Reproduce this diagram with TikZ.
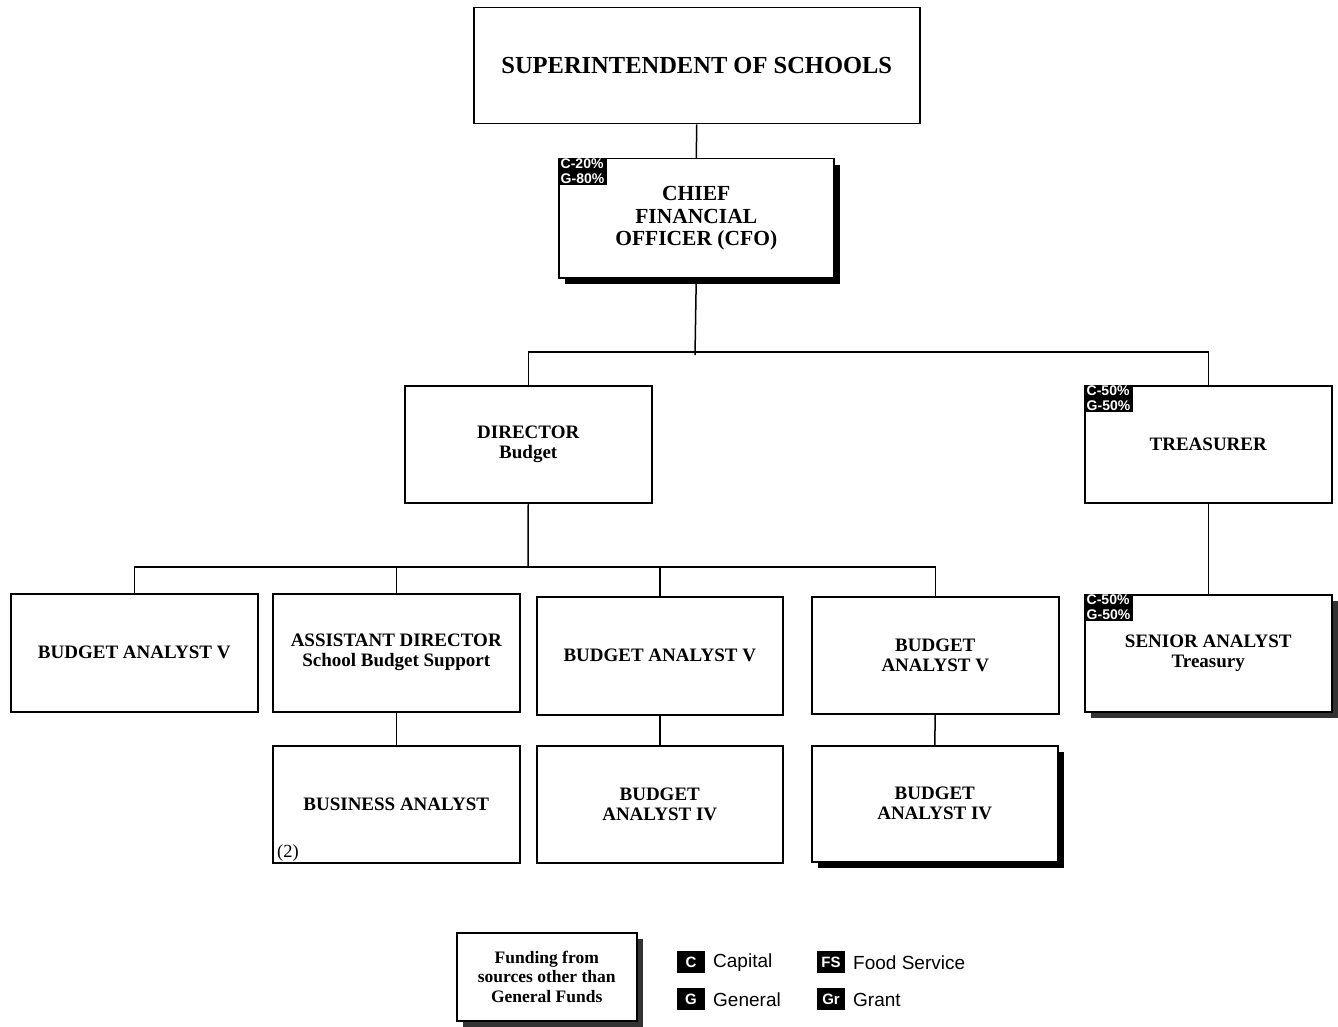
\documentclass[tikz,border=0pt]{standalone}
\usepackage{fontspec}
\setmainfont{Liberation Serif}
\newfontfamily\tagfont{Liberation Sans}
\usetikzlibrary{shadows}
\begin{document}
\begin{tikzpicture}[x=1pt,y=-1pt,
  box/.style={draw=black, line width=1.5pt, fill=white, inner sep=2pt, align=center, anchor=north west},
  shad/.style={drop shadow={shadow xshift=6pt, shadow yshift=-6pt, fill=black, opacity=1}},
  softshad/.style={drop shadow={shadow xshift=6pt, shadow yshift=-6pt, fill=black!80, opacity=1}},
  title/.style={font=\bfseries\fontsize{19}{20}\selectfont},
  bigtitle/.style={font=\bfseries\fontsize{21.5}{22.5}\selectfont},
  fundtag/.style={fill=black, text=white, inner xsep=2.5pt, inner ysep=1pt, anchor=north west, align=left,
    font=\tagfont\bfseries\fontsize{14}{14.5}\selectfont},
  keybox/.style={fill=black, text=white, minimum width=28pt, minimum height=22pt, inner sep=0pt,
    font=\tagfont\bfseries\fontsize{15}{15}\selectfont},
  keytext/.style={anchor=west, inner sep=0pt, font=\tagfont\fontsize{19}{19}\selectfont},
  conn/.style={draw=black, line width=1.5pt}]
\useasboundingbox (0,0) rectangle (1338,1027);

% top level
\node[box, minimum width=446pt, minimum height=116pt, font=\bfseries\fontsize{24.5}{26}\selectfont]
  (sup) at (473,7) {SUPERINTENDENT OF SCHOOLS};
\node[box, shad, minimum width=275pt, minimum height=119pt, bigtitle]
  (cfo) at (558,158) {CHIEF\\FINANCIAL\\OFFICER (CFO)};
\node[fundtag] (cfotag) at (cfo.north west) {C-20\%\\G-80\%};

% second level
\node[box, minimum width=247pt, minimum height=117pt, title]
  (dir) at (404,385) {DIRECTOR\\Budget};
\node[box, minimum width=247pt, minimum height=117pt, title]
  (tre) at (1084,385) {TREASURER};
\node[fundtag] (tretag) at (tre.north west) {C-50\%\\G-50\%};

% third level
\node[box, minimum width=247pt, minimum height=118pt, title]
  (ba1) at (10,593) {BUDGET ANALYST V};
\node[box, minimum width=247pt, minimum height=118pt, title]
  (ad) at (272,593) {ASSISTANT DIRECTOR\\School Budget Support};
\node[box, minimum width=246pt, minimum height=118pt, title]
  (ba3) at (536,596) {BUDGET ANALYST V};
\node[box, minimum width=247pt, minimum height=117pt, title]
  (ba4) at (811,596) {BUDGET\\ANALYST V};
\node[box, softshad, minimum width=247pt, minimum height=117pt, title]
  (sen) at (1084,594) {SENIOR ANALYST\\Treasury};
\node[fundtag] (sentag) at (sen.north west) {C-50\%\\G-50\%};

% fourth level
\node[box, minimum width=247pt, minimum height=117pt, title]
  (bus) at (272,745) {BUSINESS ANALYST};
\node[anchor=south west, inner sep=1pt, font=\fontsize{18.5}{18.5}\selectfont]
  (buscount) at ([xshift=4pt,yshift=1pt]bus.south west) {(2)};
\node[box, minimum width=246pt, minimum height=117pt, title]
  (ba4a) at (536,745) {BUDGET\\ANALYST IV};
\node[box, shad, minimum width=246pt, minimum height=116pt, title]
  (ba4b) at (811,745) {BUDGET\\ANALYST IV};

% connectors
\coordinate (cfoj) at (695,352);
\coordinate (dj) at (528,567);
\draw[conn] (sup.south) -- (cfo.north);
\draw[conn] (cfo.south) -- ([yshift=-3pt]cfoj);
\draw[conn] (dir.north) |- (cfoj) -| (tre.north);
\draw[conn] (dir.south) -- (dj);
\draw[conn] (ba1.north) |- (dj) -| (ba4.north);
\draw[conn] (ad.north) -- (ad.north |- dj);
\draw[conn] (ba3.north) -- (ba3.north |- dj);
\draw[conn] (tre.south) -- (sen.north);
\draw[conn] (ad.south) -- (bus.north);
\draw[conn] (ba3.south) -- (ba4a.north);
\draw[conn] (ba4.south) -- (ba4b.north);

% legend
\node[box, softshad, minimum width=180pt, minimum height=88pt,
  font=\bfseries\fontsize{17.5}{19.5}\selectfont]
  (fund) at (456,932) {Funding from\\sources other than\\General Funds};
\node[keybox] (kc) at (691,962) {C};
\node[keytext] (kct) at (713,963) {Capital};
\node[keybox] (kg) at (691,999) {G};
\node[keytext] (kgt) at (713,1000) {General};
\node[keybox] (kfs) at (831,962) {FS};
\node[keytext] (kfst) at (853,963) {Food Service};
\node[keybox] (kgr) at (831,999) {Gr};
\node[keytext] (kgrt) at (853,1000) {Grant};
\end{tikzpicture}
\end{document}
